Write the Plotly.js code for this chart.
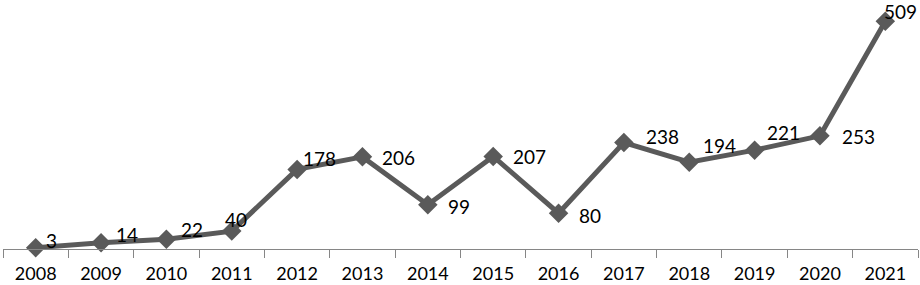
<!DOCTYPE html>
<html>
<head>
<meta charset="utf-8">
<script src="https://cdn.plot.ly/plotly-3.0.1.min.js"></script>
<style>html,body{margin:0;padding:0;background:#fff;}#chart{width:920px;height:285px;}</style>
</head>
<body>
<div id="chart"></div>
<script>
const years = ["2008","2009","2010","2011","2012","2013","2014","2015","2016","2017","2018","2019","2020","2021"];
const counts = [3, 14, 22, 40, 178, 206, 99, 207, 80, 238, 194, 221, 253, 509];

// label offsets in pixels (style only): left edge relative to point, and vertical shift (up positive)
const labelDX = [10, 15, 15, -7, 6, 20, 20, 20, 20, 22, 14, 12, 22, -1];
const labelDY = [7, 8, 10, 12, 11, -1, -2, 0, -2, 6, 17, 18, -1, 10];

const FONT = "Lato, 'Open Sans', sans-serif";
const LINE = "#5a5a5a";

const trace = {
  x: years,
  y: counts,
  type: "scatter",
  mode: "lines+markers",
  line: {color: LINE, width: 5},
  marker: {symbol: "diamond", size: 15, color: LINE},
  hoverinfo: "x+y",
  cliponaxis: false
};

const annotations = years.map((yr, i) => ({
  x: i, y: counts[i], xref: "x", yref: "y",
  text: String(counts[i]),
  showarrow: false,
  xanchor: "left", yanchor: "middle",
  xshift: labelDX[i] - 2, yshift: labelDY[i],
  font: {family: FONT, size: 19, color: "#000000"}
}));

const layout = {
  width: 920, height: 285,
  margin: {l: 3, r: 2, t: 3, b: 36},
  paper_bgcolor: "#fff", plot_bgcolor: "#fff",
  showlegend: false,
  xaxis: {
    type: "category",
    range: [-0.5, 13.5],
    showgrid: false, zeroline: false,
    showline: true, linecolor: "#868686", linewidth: 1,
    ticks: "outside", ticklen: 8, tickcolor: "#868686", tickwidth: 1,
    tickson: "boundaries",
    ticklabelstandoff: 8,
    tickfont: {family: FONT, size: 18, color: "#000"},
    fixedrange: true
  },
  yaxis: {
    range: [0, 550],
    showticklabels: false, ticks: "", showline: false,
    showgrid: false, zeroline: false,
    fixedrange: true
  },
  annotations: annotations
};

Plotly.newPlot("chart", [trace], layout, {displayModeBar: false, staticPlot: true});
</script>
</body>
</html>
